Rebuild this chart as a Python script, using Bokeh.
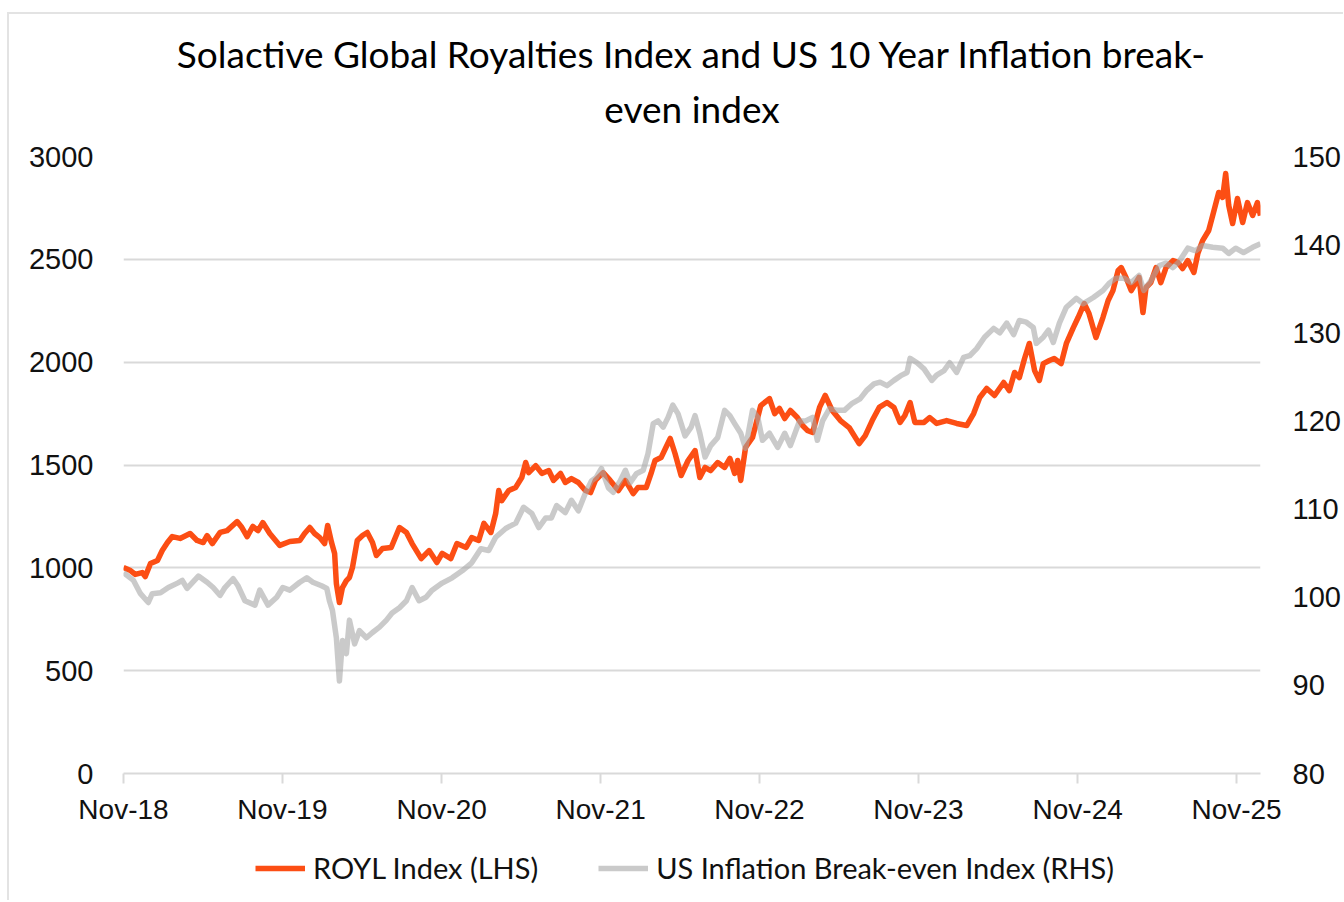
import pandas as pd
from bokeh.plotting import figure
from bokeh.layouts import column
from bokeh.models import (Range1d, LinearAxis, FixedTicker, DatetimeTickFormatter,
                          Legend, LegendItem, Title, ColumnDataSource)
from bokeh.embed import file_html
from bokeh.resources import INLINE

# ---------------- data ----------------
start_date = "2018-11-30"

# ROYL Index (LHS) : days since start, index level
royl_days = [
    0, 16, 27, 43, 50, 62, 78, 89, 101, 112,
    130, 153, 169, 183, 192, 204, 222, 238, 261, 272,
    284, 297, 309, 320, 336, 359, 382, 405, 416, 428,
    439, 451, 462, 469, 478, 485, 489, 496, 503, 512,
    519, 526, 537, 549, 560, 572, 581, 595, 615, 634,
    650, 663, 684, 702, 720, 732, 752, 766, 787, 800,
    816, 828, 844, 855, 862, 869, 885, 901, 915, 924,
    931, 947, 961, 977, 988, 1004, 1015, 1029, 1045, 1061,
    1073, 1084, 1102, 1118, 1137, 1153, 1171, 1182, 1201, 1212,
    1221, 1235, 1246, 1256, 1267, 1281, 1297, 1313, 1324, 1336,
    1349, 1365, 1381, 1393, 1404, 1411, 1418, 1429, 1445, 1464,
    1484, 1496, 1507, 1519, 1532, 1548, 1560, 1571, 1583, 1599,
    1612, 1628, 1647, 1667, 1690, 1704, 1720, 1736, 1754, 1770,
    1784, 1795, 1807, 1818, 1839, 1852, 1868, 1891, 1914, 1937,
    1953, 1967, 1983, 2001, 2022, 2035, 2047, 2058, 2070, 2081,
    2093, 2104, 2113, 2127, 2138, 2154, 2166, 2182, 2193, 2207,
    2218, 2234, 2250, 2262, 2273, 2285, 2292, 2303, 2315, 2326,
    2333, 2342, 2349, 2360, 2372, 2383, 2395, 2411, 2422, 2433,
    2445, 2459, 2468, 2479, 2493, 2504, 2516, 2525, 2532, 2539,
    2548, 2559, 2571, 2582, 2594, 2605, 2612,
]
royl_values = [
    1002, 987, 968, 977, 958, 1021, 1036, 1084, 1123, 1152,
    1143, 1167, 1133, 1123, 1157, 1118, 1172, 1181, 1225, 1196,
    1152, 1201, 1181, 1220, 1167, 1109, 1128, 1133, 1167, 1196,
    1167, 1147, 1118, 1206, 1123, 1070, 924, 831, 904, 938,
    953, 1002, 1133, 1157, 1172, 1123, 1060, 1094, 1099, 1196,
    1172, 1118, 1045, 1084, 1026, 1070, 1045, 1118, 1099, 1147,
    1133, 1216, 1172, 1264, 1376, 1327, 1376, 1391, 1439, 1512,
    1463, 1497, 1459, 1473, 1425, 1459, 1415, 1434, 1415, 1376,
    1366, 1425, 1463, 1425, 1376, 1425, 1361, 1391, 1391, 1459,
    1522, 1536, 1585, 1629, 1556, 1449, 1522, 1570, 1439, 1488,
    1473, 1512, 1488, 1532, 1459, 1522, 1425, 1585, 1634, 1789,
    1823, 1750, 1775, 1726, 1765, 1731, 1692, 1668, 1658, 1780,
    1838, 1765, 1716, 1682, 1604, 1643, 1716, 1780, 1804, 1780,
    1707, 1741, 1804, 1707, 1707, 1731, 1702, 1716, 1702, 1692,
    1750, 1828, 1872, 1838, 1901, 1862, 1950, 1925, 2018, 2091,
    1959, 1911, 1993, 2008, 2018, 1993, 2091, 2168, 2217, 2285,
    2237, 2120, 2217, 2300, 2348, 2446, 2460, 2412, 2348, 2387,
    2412, 2241, 2363, 2387, 2460, 2387, 2460, 2494, 2485, 2455,
    2494, 2436, 2528, 2591, 2640, 2728, 2825, 2801, 2917, 2762,
    2674, 2796, 2679, 2776, 2713, 2776, 2713,
]

# US Inflation Break-even Index (RHS) : days since start, index level
be_days = [
    0, 23, 39, 57, 66, 85, 103, 124, 135, 146,
    172, 192, 206, 222, 233, 252, 263, 279, 302, 313,
    332, 352, 366, 382, 405, 421, 435, 455, 467, 473,
    480, 489, 496, 503, 512, 519, 531, 542, 558, 572,
    588, 604, 617, 634, 650, 663, 679, 695, 709, 732,
    755, 778, 800, 821, 839, 855, 878, 901, 919, 938,
    954, 970, 983, 995, 1015, 1029, 1045, 1061, 1075, 1086,
    1098, 1114, 1125, 1141, 1153, 1164, 1178, 1194, 1205, 1217,
    1228, 1240, 1251, 1262, 1274, 1290, 1304, 1313, 1324, 1336,
    1349, 1365, 1381, 1393, 1404, 1418, 1429, 1445, 1457, 1468,
    1484, 1503, 1519, 1532, 1553, 1567, 1583, 1594, 1606, 1622,
    1640, 1656, 1674, 1692, 1708, 1724, 1738, 1754, 1770, 1788,
    1800, 1807, 1823, 1839, 1857, 1868, 1885, 1898, 1914, 1930,
    1944, 1960, 1978, 1999, 2013, 2029, 2045, 2058, 2074, 2090,
    2097, 2113, 2125, 2136, 2150, 2166, 2189, 2205, 2228, 2250,
    2264, 2280, 2298, 2315, 2333, 2344, 2360, 2379, 2395, 2411,
    2424, 2445, 2463, 2479, 2502, 2525, 2539, 2555, 2573, 2594,
    2612,
]
be_values = [
    102.8, 101.9, 100.4, 99.4, 100.4, 100.5, 101.1, 101.6, 101.9, 101.0,
    102.4, 101.7, 101.1, 100.2, 101.1, 102.1, 101.3, 99.6, 99.1, 100.8,
    99.1, 100.0, 101.1, 100.8, 101.7, 102.2, 101.7, 101.3, 101.0, 99.6,
    98.5, 95.4, 90.5, 95.1, 93.6, 97.4, 94.7, 96.2, 95.4, 96.0,
    96.6, 97.4, 98.2, 98.8, 99.6, 101.1, 99.6, 100.0, 100.8, 101.6,
    102.2, 103.0, 103.9, 105.5, 105.3, 106.8, 107.8, 108.4, 110.2, 109.5,
    107.9, 109.0, 109.0, 110.4, 109.6, 111.0, 109.8, 111.8, 113.2, 113.6,
    114.6, 112.4, 111.9, 113.2, 114.4, 113.0, 114.0, 114.4, 116.3, 119.7,
    120.0, 119.3, 120.4, 121.8, 120.8, 118.3, 119.3, 120.6, 118.6, 115.9,
    117.2, 118.1, 121.2, 120.6, 119.7, 118.6, 116.9, 121.2, 120.4, 117.8,
    118.6, 117.0, 118.6, 117.2, 120.0, 120.0, 120.4, 117.8, 120.0, 121.4,
    121.2, 121.2, 122.0, 122.5, 123.5, 124.2, 124.4, 124.0, 124.6, 125.2,
    125.5, 127.1, 126.6, 125.9, 124.6, 125.2, 125.7, 126.6, 125.5, 127.2,
    127.4, 128.2, 129.5, 130.5, 130.0, 131.1, 129.8, 131.4, 131.2, 130.6,
    128.8, 129.5, 130.3, 128.9, 131.1, 132.9, 133.9, 133.3, 134.0, 134.8,
    135.6, 136.2, 136.2, 135.7, 136.5, 134.8, 135.9, 137.6, 137.9, 137.4,
    138.0, 139.6, 139.3, 139.9, 139.7, 139.6, 139.0, 139.6, 139.1, 139.7,
    140.1,
]

x_tick_years = [2018, 2019, 2020, 2021, 2022, 2023, 2024, 2025]
left_ticks = [0, 500, 1000, 1500, 2000, 2500, 3000]
right_ticks = [80, 90, 100, 110, 120, 130, 140, 150]
left_range = (0, 3000)
right_range = (80, 150)

title_line1 = "Solactive Global Royalties Index and US 10 Year Inflation break-"
title_line2 = "even index"
royl_label = "ROYL Index (LHS)"
be_label = "US Inflation Break-even Index (RHS)"

# ---------------- build ----------------
t0 = pd.Timestamp(start_date)
royl_dates = t0 + pd.to_timedelta(royl_days, unit="D")
be_dates = t0 + pd.to_timedelta(be_days, unit="D")

src_royl = ColumnDataSource(dict(date=royl_dates, v=royl_values))
src_be = ColumnDataSource(dict(date=be_dates, v=be_values))

x_start = min(royl_dates.min(), be_dates.min()).to_pydatetime()
x_end = max(royl_dates.max(), be_dates.max()).to_pydatetime()

TICK_FONT = "Liberation Sans"
TEXT_FONT = "Lato"
GRID = "#d9d9d9"
ORANGE = "#FC4E14"
GREY = "#a6a6a6"

p = figure(width=1334, height=822, x_axis_type="datetime",
           output_backend="svg", toolbar_location=None,
           x_range=Range1d(x_start, x_end),
           y_range=Range1d(*left_range),
           min_border_left=114, min_border_right=78,
           min_border_top=142, min_border_bottom=63,
           background_fill_color="white", border_fill_color="white")
p.outline_line_color = None
p.extra_y_ranges = {"rhs": Range1d(*right_range)}

# titles (second line first so it sits nearest to the plot)
t2 = Title(text=title_line2, align="center", text_font=TEXT_FONT,
           text_font_size="37px", text_font_style="normal", text_color="#000000",
           standoff=51, offset=-23)
t1 = Title(text=title_line1, align="center", text_font=TEXT_FONT,
           text_font_size="37px", text_font_style="normal", text_color="#000000",
           standoff=-34, offset=-22)
p.add_layout(t2, "above")
p.add_layout(t1, "above")

# lines
r1 = p.line("date", "v", source=src_royl, line_color=ORANGE, line_width=5.5,
            line_join="round")
r2 = p.line("date", "v", source=src_be, line_color=GREY, line_alpha=0.6,
            line_width=5.5, line_join="round", y_range_name="rhs")

# x axis
xa = p.xaxis[0]
xa.ticker = FixedTicker(ticks=[pd.Timestamp(f"{y}-11-30").value / 1e6 for y in x_tick_years])
xa.formatter = DatetimeTickFormatter(days="%b-%y", months="%b-%y", years="%b-%y")
xa.axis_line_color = GRID
xa.axis_line_width = 2
xa.major_tick_line_color = GRID
xa.major_tick_line_width = 2
xa.major_tick_in = 0
xa.major_tick_out = 10
xa.minor_tick_line_color = None
xa.major_label_text_font = TICK_FONT
xa.major_label_text_font_size = "28px"
xa.major_label_text_color = "#111111"
xa.major_label_standoff = 10

# left y axis
ya = p.yaxis[0]
ya.ticker = FixedTicker(ticks=left_ticks)
ya.axis_line_color = None
ya.major_tick_line_color = None
ya.minor_tick_line_color = None
ya.major_label_text_font = TICK_FONT
ya.major_label_text_font_size = "29px"
ya.major_label_text_color = "#111111"
ya.major_label_standoff = 24

# right y axis
ra = LinearAxis(y_range_name="rhs", ticker=FixedTicker(ticks=right_ticks))
ra.axis_line_color = None
ra.major_tick_line_color = None
ra.minor_tick_line_color = None
ra.major_label_text_font = TICK_FONT
ra.major_label_text_font_size = "29px"
ra.major_label_text_color = "#111111"
ra.major_label_standoff = 26
p.add_layout(ra, "right")

p.xgrid.grid_line_color = None
p.ygrid.grid_line_color = GRID
p.ygrid.grid_line_width = 2
p.ygrid.ticker = FixedTicker(ticks=left_ticks)

# legend strip below the chart (same series, drawn outside its 0..1 view so only the key shows)
pl = figure(width=1334, height=64, output_backend="svg", toolbar_location=None,
            x_range=Range1d(0, 1), y_range=Range1d(0, 1),
            x_axis_location=None, y_axis_location=None, min_border=0,
            background_fill_color="white", border_fill_color="white")
pl.outline_line_color = None
pl.grid.visible = False
k1 = pl.line("date", "v", source=src_royl, line_color=ORANGE, line_width=5.5)
k2 = pl.line("date", "v", source=src_be, line_color=GREY, line_alpha=0.6, line_width=5.5)
legend = Legend(items=[LegendItem(label=royl_label, renderers=[k1]),
                       LegendItem(label=be_label, renderers=[k2])],
                orientation="horizontal", location=(132, 15),
                label_text_font=TEXT_FONT, label_text_font_size="29px",
                label_text_color="#111111",
                glyph_width=50, glyph_height=20, label_standoff=8, spacing=60,
                border_line_color=None, background_fill_alpha=0,
                padding=0, margin=0)
pl.add_layout(legend, "center")

layout = column(p, pl, spacing=0)
layout.styles = {"border-top": "2px solid #e3e3e3", "border-left": "2px solid #e3e3e3",
                 "margin-top": "12px", "margin-left": "7px"}

open("out.html", "w").write(file_html(layout, INLINE))
